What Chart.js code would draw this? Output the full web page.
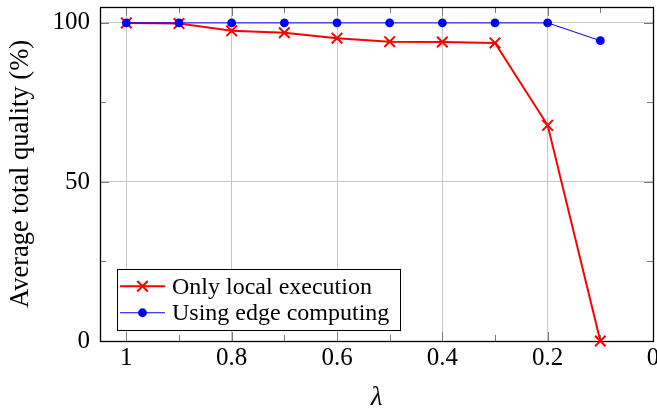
<!DOCTYPE html>
<html>
<head>
<meta charset="utf-8">
<script src="https://cdn.jsdelivr.net/npm/chart.js@4/dist/chart.umd.min.js"></script>
<style>
  html, body { margin: 0; padding: 0; background: #fff; }
  #wrap { width: 657px; height: 411px; }
</style>
</head>
<body>
<div id="wrap"><canvas id="c" width="657" height="411"></canvas></div>
<script>
// λ values along the horizontal axis (drawn from 1 down to 0)
const lambdaValues = [1, 0.9, 0.8, 0.7, 0.6, 0.5, 0.4, 0.3, 0.2, 0.1];
// Average total quality in percent
const localQuality = [100, 99.8, 97.5, 96.9, 95.2, 94.1, 94.0, 93.7, 67.8, 0];
const edgeQuality = [100, 100, 100, 100, 100, 100, 100, 100, 100, 94.4];

const xMajorTicks = [1, 0.8, 0.6, 0.4, 0.2, 0];
const xMinorTicks = [0.9, 0.7, 0.5, 0.3, 0.1];
const yMajorTicks = [0, 50, 100];
const yMinorTicks = [25, 75];

const seriesLabels = ['Only local execution', 'Using edge computing'];

const SERIF = "'Liberation Serif', 'DejaVu Serif', serif";

function toPoints(xs, ys) {
  return xs.map((x, i) => ({ x: x, y: ys[i] }));
}

// Box frame with inward tick marks on all four sides
const framePlugin = {
  id: 'frame',
  beforeDatasetsDraw(chart) {
    const { ctx, chartArea: a, scales: { x, y } } = chart;
    ctx.save();
    ctx.strokeStyle = '#7a7a7a';
    ctx.lineWidth = 1;
    const major = 9, minor = 6;
    const vTick = (v, len) => {
      const px = Math.round(x.getPixelForValue(v)) + 0.5;
      ctx.beginPath();
      ctx.moveTo(px, a.bottom); ctx.lineTo(px, a.bottom - len);
      ctx.moveTo(px, a.top); ctx.lineTo(px, a.top + len);
      ctx.stroke();
    };
    const hTick = (v, len) => {
      const py = Math.round(y.getPixelForValue(v)) + 0.5;
      ctx.beginPath();
      ctx.moveTo(a.left, py); ctx.lineTo(a.left + len, py);
      ctx.moveTo(a.right, py); ctx.lineTo(a.right - len, py);
      ctx.stroke();
    };
    xMajorTicks.forEach(v => vTick(v, major));
    xMinorTicks.forEach(v => vTick(v, minor));
    yMajorTicks.forEach(v => hTick(v, major));
    yMinorTicks.forEach(v => hTick(v, minor));
    ctx.strokeStyle = '#000';
    ctx.lineWidth = 1.3;
    ctx.strokeRect(Math.round(a.left) + 0.5, Math.round(a.top) + 0.5,
                   Math.round(a.right - a.left), Math.round(a.bottom - a.top));
    ctx.restore();
  }
};

// Legend box placed inside the lower-left corner of the plot
const insideLegend = {
  id: 'insideLegend',
  afterDatasetsDraw(chart) {
    const { ctx, chartArea: a } = chart;
    const ds = chart.data.datasets;
    const boxX = a.left + 17, boxW = 283;
    const rowH = 26.5;
    const boxH = rowH * ds.length + 8;
    const boxY = a.bottom - 11 - boxH;
    ctx.save();
    ctx.fillStyle = '#fff';
    ctx.fillRect(boxX, boxY, boxW, boxH);
    ctx.strokeStyle = '#000';
    ctx.lineWidth = 1;
    ctx.strokeRect(Math.round(boxX) + 0.5, Math.round(boxY) + 0.5, boxW, Math.round(boxH));
    ds.forEach((d, i) => {
      const cy = boxY + 4 + rowH * (i + 0.5);
      const x0 = boxX + 3, x1 = boxX + 48, xm = (x0 + x1) / 2;
      ctx.strokeStyle = d.borderColor;
      ctx.lineWidth = d.borderWidth;
      ctx.beginPath();
      ctx.moveTo(x0, cy); ctx.lineTo(x1, cy);
      ctx.stroke();
      ctx.fillStyle = d.pointBackgroundColor;
      ctx.strokeStyle = d.pointBorderColor;
      ctx.lineWidth = d.pointBorderWidth;
      ctx.beginPath();
      if (d.pointStyle === 'circle') {
        ctx.arc(xm, cy, d.pointRadius, 0, Math.PI * 2);
        ctx.fill();
      } else {
        // same half-width as Chart.js' rotated cross
        const r = d.pointRadius * Math.SQRT1_2;
        ctx.moveTo(xm - r, cy - r); ctx.lineTo(xm + r, cy + r);
        ctx.moveTo(xm - r, cy + r); ctx.lineTo(xm + r, cy - r);
        ctx.stroke();
      }
      ctx.fillStyle = '#000';
      ctx.font = '24px ' + SERIF;
      ctx.textBaseline = 'middle';
      ctx.textAlign = 'left';
      ctx.fillText(seriesLabels[i], boxX + 55, cy + 1);
    });
    ctx.restore();
  }
};

new Chart(document.getElementById('c'), {
  type: 'line',
  data: {
    datasets: [
      {
        label: seriesLabels[0],
        data: toPoints(lambdaValues, localQuality),
        borderColor: '#ff0000',
        borderWidth: 2,
        pointStyle: 'crossRot',
        pointRadius: 7.5,
        pointBorderWidth: 2,
        pointBorderColor: '#ff0000',
        pointBackgroundColor: '#ff0000',
        tension: 0,
        clip: false,
        order: 2
      },
      {
        label: seriesLabels[1],
        data: toPoints(lambdaValues, edgeQuality),
        borderColor: '#0000ff',
        borderWidth: 1,
        pointStyle: 'circle',
        pointRadius: 4.4,
        pointBorderWidth: 0,
        pointBorderColor: '#0000ff',
        pointBackgroundColor: '#0000ff',
        tension: 0,
        clip: false,
        order: 1
      }
    ]
  },
  options: {
    responsive: false,
    animation: false,
    events: [],
    layout: { autoPadding: false, padding: { top: 7, right: 4, left: 0, bottom: 0 } },
    plugins: {
      legend: { display: false },
      tooltip: { enabled: false },
      title: { display: false }
    },
    scales: {
      x: {
        type: 'linear',
        reverse: true,
        min: 0,
        max: 1.05,
        afterBuildTicks(scale) { scale.ticks = xMajorTicks.map(v => ({ value: v })); },
        afterFit(scale) { scale.height = 70; scale.paddingLeft = 0; scale.paddingRight = 0; },
        grid: { color: '#c8c8c8', lineWidth: 1, drawTicks: false },
        border: { display: false },
        ticks: {
          padding: 2,
          color: '#000',
          font: { family: SERIF, size: 25 },
          maxRotation: 0,
          autoSkip: false,
          callback: v => String(Math.round(v * 10) / 10)
        },
        title: {
          display: true,
          text: 'λ',
          color: '#000',
          font: { family: SERIF, size: 27, style: 'italic', lineHeight: 1 },
          padding: { top: 0, bottom: 0 }
        }
      },
      y: {
        min: 0,
        max: 105,
        afterBuildTicks(scale) { scale.ticks = yMajorTicks.map(v => ({ value: v })); },
        afterFit(scale) { scale.width = 100; scale.paddingTop = 0; scale.paddingBottom = 0; },
        grid: { color: '#c8c8c8', lineWidth: 1, drawTicks: false },
        border: { display: false },
        ticks: {
          padding: 10,
          color: '#000',
          font: { family: SERIF, size: 25 },
          callback: v => String(v)
        },
        title: {
          display: true,
          text: 'Average total quality (%)',
          color: '#000',
          font: { family: SERIF, size: 26.5, lineHeight: 1 },
          padding: { top: 8, bottom: 0 }
        }
      }
    }
  },
  plugins: [framePlugin, insideLegend]
});
</script>
</body>
</html>
